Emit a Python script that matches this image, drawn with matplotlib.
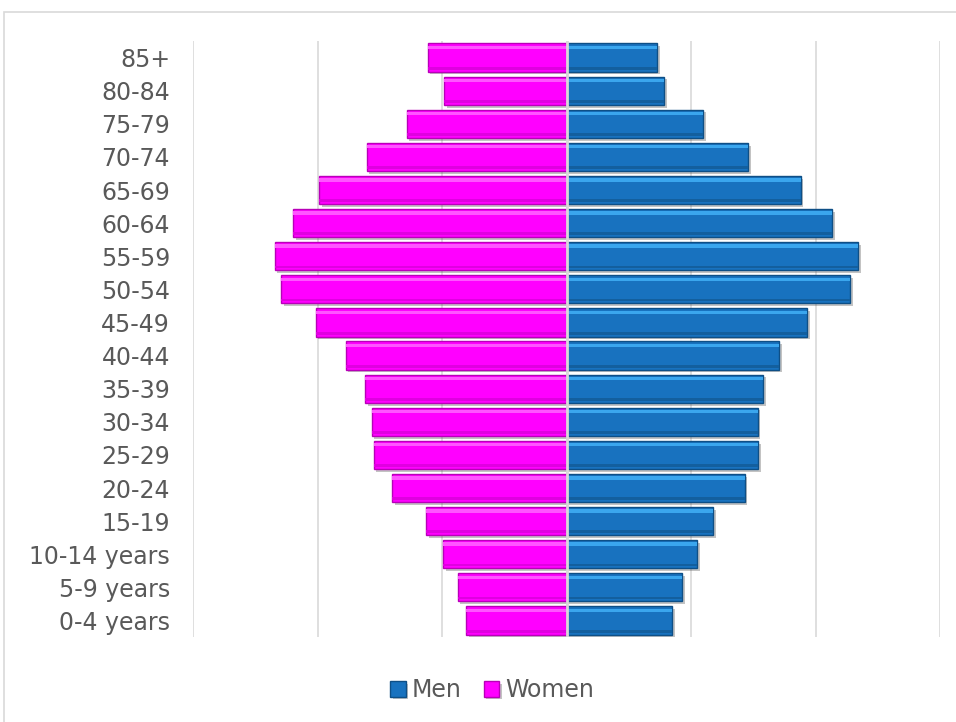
import matplotlib
matplotlib.use("Agg")
import matplotlib.pyplot as plt
import matplotlib.patheffects as pe
from matplotlib.patches import Rectangle
import numpy as np

categories = ["0-4 years", "5-9 years", "10-14 years", "15-19", "20-24", "25-29",
              "30-34", "35-39", "40-44", "45-49", "50-54", "55-59", "60-64",
              "65-69", "70-74", "75-79", "80-84", "85+"]
men = [1.70, 1.86, 2.10, 2.35, 2.86, 3.08, 3.07, 3.16, 3.41, 3.87, 4.56, 4.69,
       4.27, 3.76, 2.92, 2.20, 1.57, 1.45]
women = [1.61, 1.75, 1.98, 2.25, 2.80, 3.10, 3.13, 3.23, 3.55, 4.03, 4.59, 4.69,
         4.39, 3.98, 3.21, 2.57, 1.96, 2.23]

plt.rcParams['font.family'] = ['DejaVu Sans']
fig = plt.figure(figsize=(9.56, 7.22), dpi=100)
# outer chart border
fig.patches.append(Rectangle((4/956, -0.05), 1.0, 1 - 12/722 + 0.05,
                             transform=fig.transFigure, fill=False,
                             edgecolor='#D9D9D9', lw=1.2))
ax = fig.add_axes([193/956, 1 - 637/722, (940 - 193)/956, (637 - 41)/722])

y = np.arange(len(categories))
h = 0.85
shadow = [pe.SimplePatchShadow(offset=(2, -2), alpha=0.35, shadow_rgbFace='#555555'), pe.Normal()]
men_col, men_edge, men_hi, men_lo = '#1872BF', '#0E4F86', '#3AA6EE', '#135F9E'
wom_col, wom_edge, wom_hi, wom_lo = '#FF00FF', '#B800B8', '#FF55FF', '#E000E0'

bm = ax.barh(y, men, height=h, color=men_col, edgecolor=men_edge, lw=1.0,
             label='Men', zorder=3, path_effects=shadow)
bw = ax.barh(y, [-v for v in women], height=h, color=wom_col, edgecolor=wom_edge, lw=1.0,
             label='Women', zorder=3, path_effects=shadow)
# bevel highlights / shading
ax.barh(y + h * 0.36, men, height=h * 0.12, color=men_hi, lw=0, zorder=4)
ax.barh(y + h * 0.36, [-v for v in women], height=h * 0.12, color=wom_hi, lw=0, zorder=4)
ax.barh(y - h * 0.38, men, height=h * 0.1, color=men_lo, lw=0, zorder=4)
ax.barh(y - h * 0.38, [-v for v in women], height=h * 0.1, color=wom_lo, lw=0, zorder=4)

ax.set_xlim(-6, 6)
ax.set_ylim(-0.5, len(categories) - 0.5)
ax.set_xticks(np.arange(-6, 7, 2))
ax.set_xticklabels([])
ax.tick_params(axis='x', length=0)
ax.tick_params(axis='y', length=0, pad=16.5, labelsize=17, labelcolor='#595959')
ax.set_yticks(y)
ax.set_yticklabels(categories)
ax.grid(axis='x', color='#D9D9D9', lw=1.2, zorder=0)
ax.axvline(0, color='#D9D9D9', lw=2, zorder=5)
for s in ax.spines.values():
    s.set_visible(False)

leg = fig.legend(handles=[bm, bw], labels=['Men', 'Women'], loc='center',
                 bbox_to_anchor=(492/956, 1 - 690/722), ncol=2, frameon=False,
                 fontsize=17, handlelength=0.65, handleheight=0.65,
                 handletextpad=0.25, columnspacing=0.95, labelcolor='#595959')
fig.savefig('out.png', dpi=100)
